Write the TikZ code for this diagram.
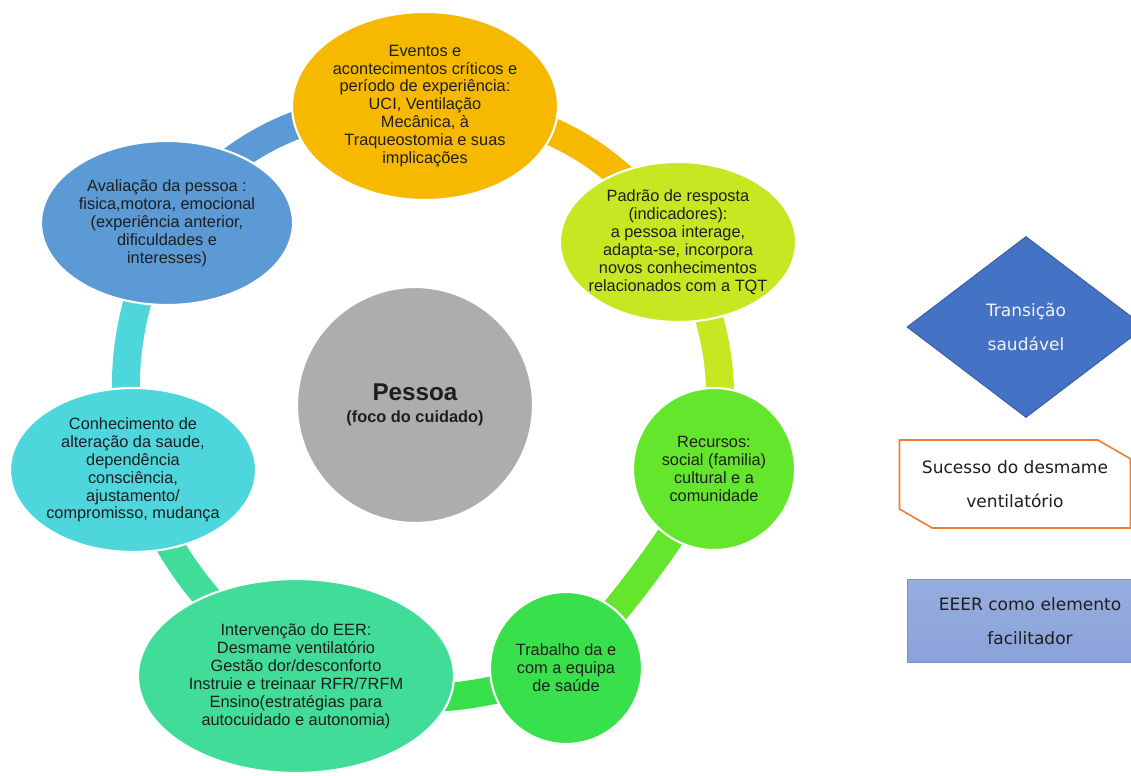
\documentclass[tikz,border=0pt]{standalone}
\usepackage{fontspec}
\setmainfont{Liberation Sans}
\newfontfamily\legendfont{DejaVu Sans}
\usetikzlibrary{shapes.geometric,shapes.misc,backgrounds}

\definecolor{evorange}{HTML}{F7B900}
\definecolor{padgreen}{HTML}{C6E822}
\definecolor{recgreen}{HTML}{63E62B}
\definecolor{trabgreen}{HTML}{38E04C}
\definecolor{eermint}{HTML}{41DC98}
\definecolor{conhcyan}{HTML}{4DD6DC}
\definecolor{avalblue}{HTML}{5B9AD5}
\definecolor{pesgray}{HTML}{ADADAD}
\definecolor{textdark}{HTML}{1E1E1E}
\definecolor{diamblue}{HTML}{4472C4}
\definecolor{boxorange}{HTML}{ED7D31}
\definecolor{factop}{HTML}{97ADE0}
\definecolor{facbottom}{HTML}{8AA2D9}
\definecolor{facline}{HTML}{7890CC}

\begin{document}
\begin{tikzpicture}[x=0.02cm, y=-0.02cm]

        \tikzstyle{bubble} = [ellipse, draw=white, line width=1.2pt, inner sep=0pt, align=center, text=textdark, font=\fontsize{9.3}{10.2}\selectfont]
        \tikzstyle{ring} = [line width=0.56cm]
        \tikzstyle{legend} = [align=center, inner sep=0pt, font=\legendfont\fontsize{9.7}{19.5}\selectfont]

        \useasboundingbox (0,0) rectangle (1131,776);

        \node [bubble, fill=evorange, minimum width=5.32cm, minimum height=3.76cm] (ev) at (425,106) {Eventos e\\acontecimentos críticos e\\período de experiência:\\UCI, Ventilação\\Mecânica, à\\Traqueostomia e suas\\implicações};
        \node [bubble, fill=padgreen, minimum width=4.72cm, minimum height=3.2cm, inner xsep=-6pt] (pad) at (678,242) {Padrão de resposta\\(indicadores):\\a pessoa interage,\\adapta-se, incorpora\\novos conhecimentos\\relacionados com a TQT};
        \node [bubble, circle, fill=recgreen, minimum size=3.24cm] (rec) at (714,469) {Recursos:\\social (familia)\\cultural e a\\comunidade};
        \node [bubble, circle, fill=trabgreen, minimum size=3.04cm] (trab) at (566,668) {Trabalho da e\\com a equipa\\de saúde};
        \node [bubble, fill=eermint, minimum width=6.32cm, minimum height=3.88cm] (eer) at (296,676) {Intervenção do EER:\\Desmame ventilatório\\Gestão dor/desconforto\\Instruie e treinaar RFR/7RFM\\Ensino(estratégias para\\autocuidado e autonomia)};
        \node [bubble, fill=conhcyan, minimum width=4.92cm, minimum height=3.28cm] (conh) at (133,470) {Conhecimento de\\alteração da saude,\\dependência\\consciência,\\ajustamento/\\compromisso, mudança};
        \node [bubble, fill=avalblue, minimum width=5.04cm, minimum height=3.28cm] (aval) at (167,223) {Avaliação da pessoa :\\fisica,motora, emocional\\(experiência anterior,\\dificuldades e\\interesses)};
        \node [bubble, circle, fill=pesgray, minimum size=4.72cm] (pes) at (415,405) {\fontsize{13.8}{14}\selectfont\bfseries Pessoa\\[2.3pt]\bfseries (foco do cuidado)};

        \begin{scope}[on background layer]
        \draw [ring, avalblue] (aval.center) to[bend left=26] (ev.center);
        \draw [ring, evorange] (ev.center) to[bend left=27] (pad.center);
        \draw [ring, padgreen] (pad.center) to[bend left=18] (rec.center);
        \draw [ring, recgreen] (rec.center) to[bend left=5] (trab.center);
        \draw [ring, trabgreen] (trab.center) to[bend left=19] (eer.center);
        \draw [ring, eermint] (eer.center) to[bend left=16] (conh.center);
        \draw [ring, conhcyan] (conh.center) to[bend left=17] (aval.center);
        \end{scope}

        \node [legend, diamond, fill=diamblue, draw=diamblue!85!black, line width=0.6pt, text=white!92!diamblue, minimum width=4.76cm, minimum height=3.62cm] (trans) at (1026,327) {Transição\\saudável};
        \node [legend, chamfered rectangle, chamfered rectangle corners={north east,south west}, chamfered rectangle angle=60, chamfered rectangle xsep=0.44cm, draw=boxorange, line width=0.9pt, fill=white, text=textdark, minimum width=4.62cm, minimum height=1.76cm] (suc) at (1015,484) {Sucesso do desmame\\ventilatório};
        \node [legend, rectangle, top color=factop, bottom color=facbottom, draw=facline, line width=0.6pt, text=textdark, minimum width=4.92cm, minimum height=1.66cm] (fac) at (1030,621) {EEER como elemento\\facilitador};

    \end{tikzpicture}
\end{document}
